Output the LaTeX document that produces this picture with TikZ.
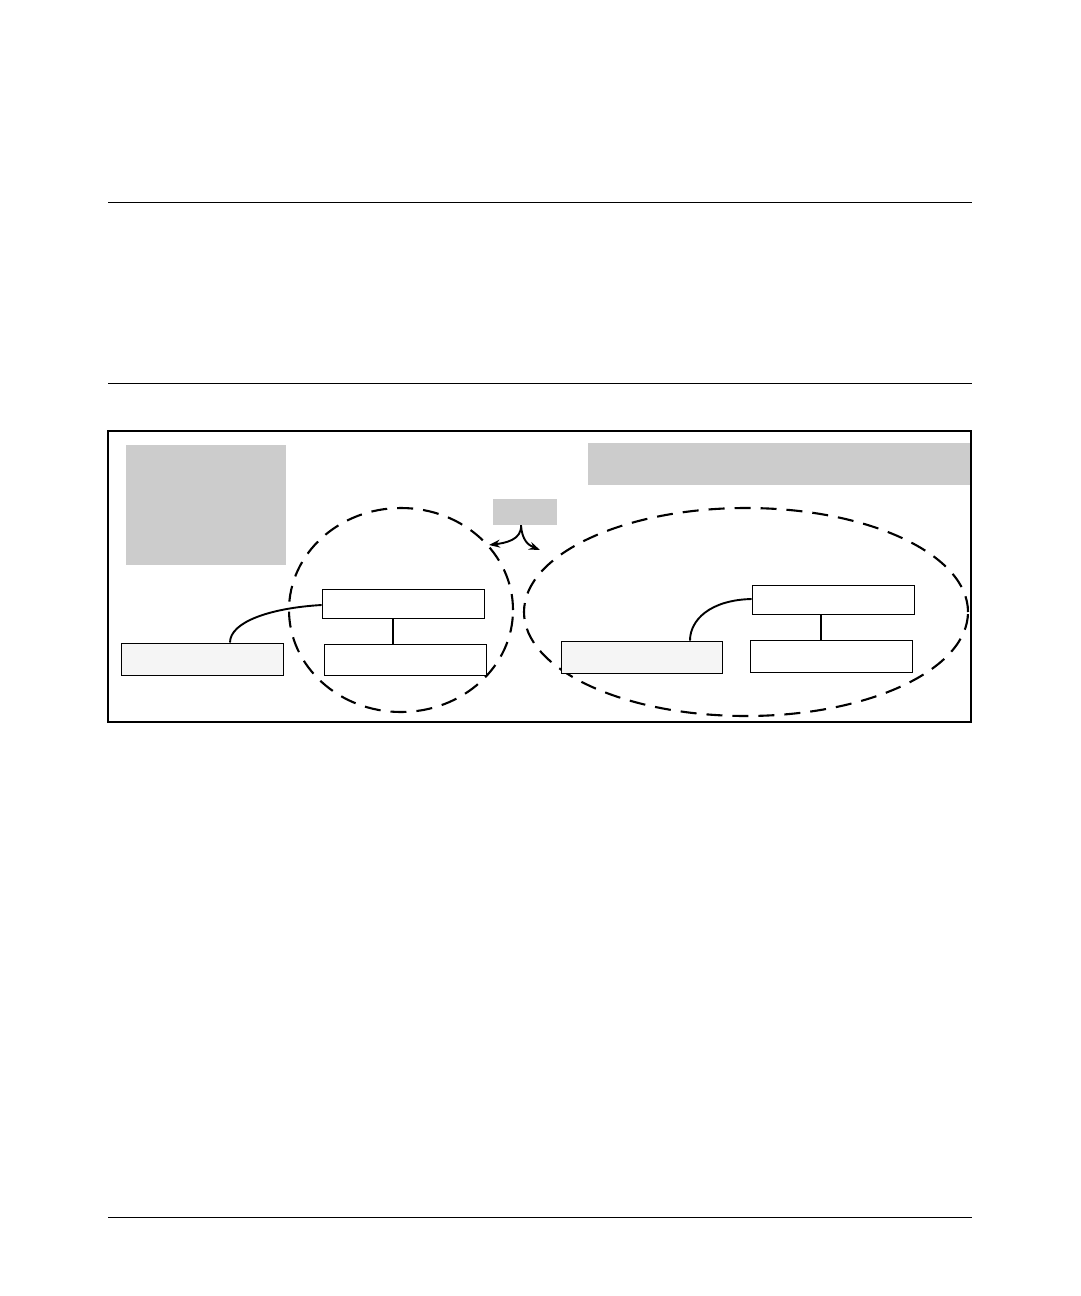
\documentclass[tikz,border=0pt]{standalone}
\usetikzlibrary{arrows.meta}
\begin{document}
\begin{tikzpicture}[x=1pt,y=-1pt,
  rule/.style={line width=0.9pt},
  graybox/.style={fill=black!20,draw=none},
  whitebox/.style={draw,line width=0.9pt,fill=white},
  lightbox/.style={draw,line width=0.9pt,fill=black!4},
  zone/.style={draw,line width=2.1pt,dash pattern=on 16pt off 10pt},
  link/.style={line width=1.9pt},
  flow/.style={line width=1.9pt,-{Stealth[length=11pt,width=8pt]}}]
\useasboundingbox (0,0) rectangle (1080,1296);
\coordinate (r1a) at (108,202); \coordinate (r1b) at (972,202);
\coordinate (r2a) at (108,383); \coordinate (r2b) at (972,383);
\coordinate (r3a) at (108,1217); \coordinate (r3b) at (972,1217);
\draw[rule] (r1a) -- (r1b);
\draw[rule] (r2a) -- (r2b);
\draw[rule] (r3a) -- (r3b);
\node[draw,line width=2.2pt,minimum width=863pt,minimum height=291pt,inner sep=0pt] (frame) at (539.5,576.5) {};
\node[graybox,minimum width=160pt,minimum height=120pt,inner sep=0pt] (g1) at (206,505) {};
\node[graybox,minimum width=382pt,minimum height=42pt,inner sep=0pt] (g2) at (779,464) {};
\node[graybox,minimum width=64pt,minimum height=26pt,inner sep=0pt] (g3) at (525,512) {};
\draw[zone] (401,610) ellipse [x radius=112pt,y radius=102pt];
\draw[zone] (746,612) ellipse [x radius=222pt,y radius=104pt];
\node[whitebox,minimum width=162pt,minimum height=29pt,inner sep=0pt] (a) at (403,603.5) {};
\node[whitebox,minimum width=162pt,minimum height=31pt,inner sep=0pt] (b) at (405,659.5) {};
\node[lightbox,minimum width=162pt,minimum height=32pt,inner sep=0pt] (c) at (202,659) {};
\node[whitebox,minimum width=162pt,minimum height=29pt,inner sep=0pt] (d) at (833,599.5) {};
\node[whitebox,minimum width=162pt,minimum height=32pt,inner sep=0pt] (e) at (831,656) {};
\node[lightbox,minimum width=161pt,minimum height=32pt,inner sep=0pt] (f) at (641.5,657) {};
\draw[link] (a.south -| 393,0) -- (b.north -| 393,0);
\draw[link] (d.south -| 821,0) -- (e.north -| 821,0);
\draw[link] (a.west |- 0,605) .. controls (270,608) and (230,622) .. (c.north -| 230,0);
\draw[link] (d.west |- 0,599) .. controls (710,600) and (690,620) .. (f.north -| 690,0);
\coordinate (lt) at (489,545);
\coordinate (rt) at (540,550);
\draw[flow] (g3.south -| 521,0) .. controls (522,540) and (505,543) .. (lt);
\draw[flow] (g3.south -| 521,0) .. controls (522,540) and (528,545) .. (rt);
\end{tikzpicture}
\end{document}
